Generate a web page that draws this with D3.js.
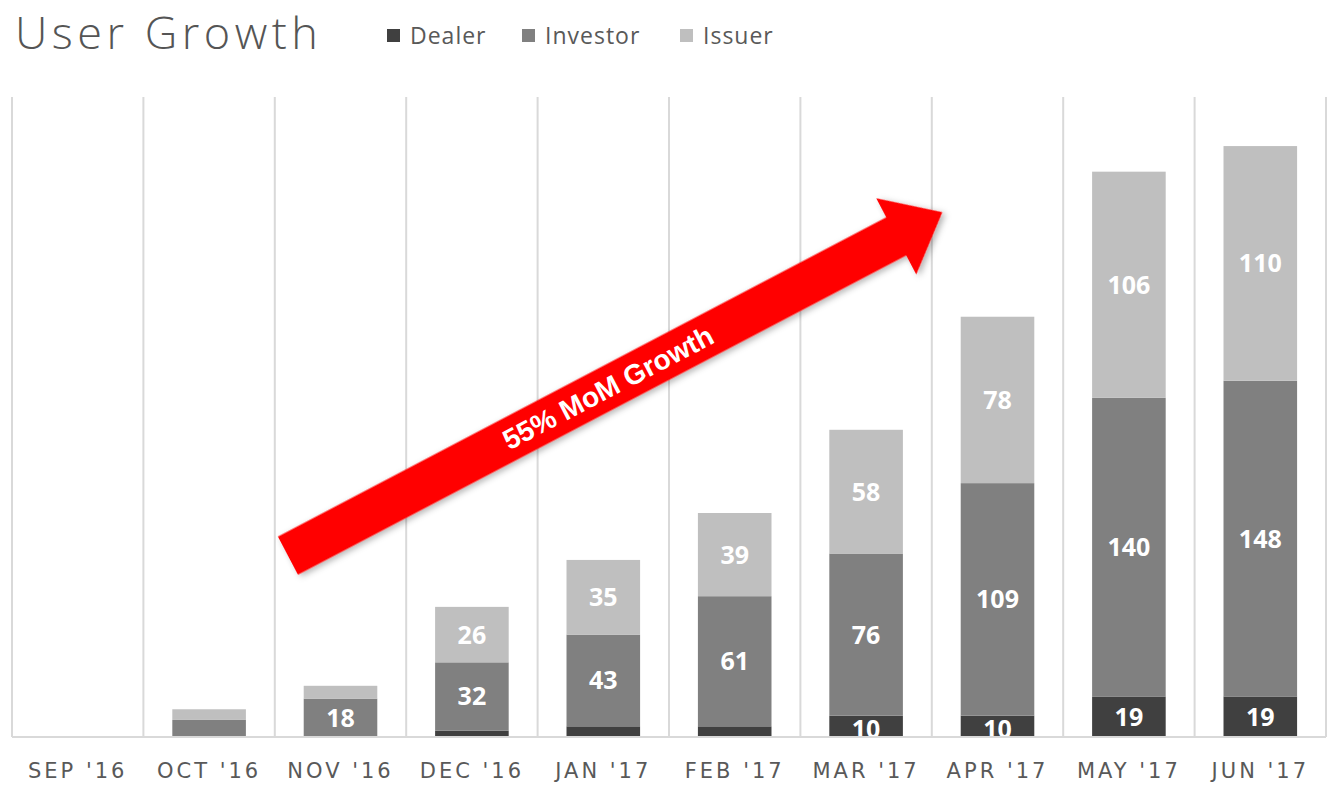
<!DOCTYPE html>
<html><head><meta charset="utf-8">
<script src="https://cdn.jsdelivr.net/npm/d3@7"></script>
<style>
html,body{margin:0;padding:0;background:#fff;}
svg{display:block;}
</style></head>
<body>
<svg id="chart" width="1330" height="785"></svg>
<script>
const categories = ["SEP '16","OCT '16","NOV '16","DEC '16","JAN '17","FEB '17","MAR '17","APR '17","MAY '17","JUN '17"];
const dealer   = [0, 0, 0, 3, 5, 5, 10, 10, 19, 19];
const investor = [0, 8, 18, 32, 43, 61, 76, 109, 140, 148];
const issuer   = [0, 5, 6, 26, 35, 39, 58, 78, 106, 110];
const seriesNames = ["Dealer","Investor","Issuer"];
const seriesColors = ["#404040","#808080","#bfbfbf"];
const labelMin = 10;
const titleText = "User Growth";
const arrowText = "55% MoM Growth";
// arrow annotation anchored in data space: [category, fraction within band, value]
const arrowFrom = ["NOV '16", 0.1, 85];
const arrowTo   = ["APR '17", 0.08, 246];

const svg = d3.select("#chart");
const W = 1330, H = 785;
const m = {left: 12, right: 4, top: 97, bottom: 48};
const x = d3.scaleBand().domain(categories).range([m.left, W - m.right]).paddingInner(0).paddingOuter(0);
const y = d3.scaleLinear().domain([0, 300]).range([H - m.bottom, m.top]);
const barPad = 0.22;

const rows = categories.map((c, i) => ({cat: c, Dealer: dealer[i], Investor: investor[i], Issuer: issuer[i]}));
const stacked = d3.stack().keys(seriesNames)(rows);

// vertical separators
const bounds = categories.map(c => x(c)).concat([x.range()[1]]);
svg.append("g").selectAll("line").data(bounds).join("line")
  .attr("x1", d => d).attr("x2", d => d)
  .attr("y1", y(300)).attr("y2", y(0))
  .attr("stroke", "#d9d9d9").attr("stroke-width", 2);

// bars
const g = svg.append("g");
stacked.forEach((s, si) => {
  g.append("g").selectAll("rect").data(s).join("rect")
    .attr("x", d => x(d.data.cat) + x.bandwidth() * barPad)
    .attr("width", x.bandwidth() * (1 - 2 * barPad))
    .attr("y", d => y(d[1]))
    .attr("height", d => y(d[0]) - y(d[1]))
    .attr("fill", seriesColors[si]);
});

// value labels (clipped to plot area like the original)
const clip = svg.append("defs").append("clipPath").attr("id", "plotclip");
clip.append("rect").attr("x", 0).attr("y", 0).attr("width", W).attr("height", y(0));
stacked.forEach((s, si) => {
  g.append("g").attr("clip-path", "url(#plotclip)")
    .selectAll("text").data(s.filter(d => d[1] - d[0] >= labelMin)).join("text")
    .attr("x", d => x(d.data.cat) + x.bandwidth() / 2)
    .attr("y", d => (y(d[0]) + y(d[1])) / 2 + (d[1] - d[0] < 15 ? 3 : 0))
    .attr("dy", "0.36em")
    .attr("text-anchor", "middle")
    .attr("fill", "#fff")
    .attr("font-family", "'Open Sans', 'Liberation Sans', sans-serif")
    .attr("font-weight", 700)
    .attr("font-size", 25)
    .text(d => d[1] - d[0]);
});

// baseline
svg.append("line").attr("x1", x.range()[0]).attr("x2", x.range()[1])
  .attr("y1", y(0)).attr("y2", y(0)).attr("stroke", "#d9d9d9").attr("stroke-width", 2);

// x axis labels
const xAxis = d3.axisBottom(x).tickSize(0).tickPadding(0);
const ax = svg.append("g").attr("transform", `translate(0,${y(0) + 34})`).call(xAxis);
ax.select(".domain").remove();
ax.selectAll("text")
  .attr("dy", "0.35em")
  .attr("fill", "#595959")
  .attr("font-family", "'DejaVu Sans', sans-serif")
  .attr("font-size", 21)
  .attr("letter-spacing", 3);

// title
svg.append("text").attr("x", 15).attr("y", 49)
  .attr("font-family", "'Open Sans', sans-serif").attr("font-weight", 300)
  .attr("font-size", 45).attr("fill", "#555").attr("letter-spacing", 4.5)
  .text(titleText);

// legend
const legendX = [387, 522, 680];
const lg = svg.append("g");
seriesNames.forEach((n, i) => {
  lg.append("rect").attr("x", legendX[i]).attr("y", 29).attr("width", 13).attr("height", 13).attr("fill", seriesColors[i]);
  lg.append("text").attr("x", legendX[i] + 23).attr("y", 44)
    .attr("font-family", "'Open Sans', sans-serif").attr("font-size", 23).attr("fill", "#595959")
    .attr("letter-spacing", 1)
    .text(n);
});

// arrow annotation
const p0 = [x(arrowFrom[0]) + x.bandwidth() * arrowFrom[1], y(arrowFrom[2])];
const p1 = [x(arrowTo[0]) + x.bandwidth() * arrowTo[1], y(arrowTo[2])];
const dx = p1[0] - p0[0], dy = p1[1] - p0[1];
const len = Math.hypot(dx, dy);
const ang = Math.atan2(dy, dx) * 180 / Math.PI;
const shaftW = 43, headW = 86, headL = 52;
const defs = svg.append("defs");
const f = defs.append("filter").attr("id", "sh").attr("x", "-10%").attr("y", "-20%").attr("width", "120%").attr("height", "140%");
f.append("feDropShadow").attr("dx", 2).attr("dy", 3).attr("stdDeviation", 3).attr("flood-color", "#000").attr("flood-opacity", 0.3);
const ag = svg.append("g").attr("transform", `translate(${p0[0]},${p0[1]}) rotate(${ang})`);
const pts = [[0, -shaftW/2], [len - headL, -shaftW/2], [len - headL, -headW/2], [len, 0], [len - headL, headW/2], [len - headL, shaftW/2], [0, shaftW/2]];
ag.append("path").attr("d", d3.line()(pts) + "Z").attr("fill", "#ff0000").attr("filter", "url(#sh)");
ag.append("text").attr("x", (len - headL) / 2 + 18).attr("y", 0).attr("dy", "0.35em")
  .attr("text-anchor", "middle").attr("fill", "#fff")
  .attr("font-family", "'Liberation Sans', Arial, sans-serif").attr("font-weight", 700).attr("font-size", 28)
  .text(arrowText);
</script>
</body></html>
